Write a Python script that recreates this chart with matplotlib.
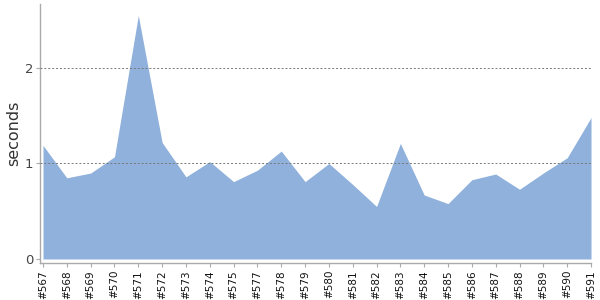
import matplotlib
matplotlib.use("Agg")
import matplotlib.pyplot as plt
import numpy as np

builds = ["#567", "#568", "#569", "#570", "#571", "#572", "#573", "#574", "#575",
          "#577", "#578", "#579", "#580", "#581", "#582", "#583", "#584", "#585",
          "#586", "#587", "#588", "#589", "#590", "#591"]
seconds = [1.19, 0.85, 0.90, 1.07, 2.55, 1.22, 0.86, 1.02, 0.81,
           0.93, 1.13, 0.81, 1.00, 0.78, 0.55, 1.21, 0.67, 0.58,
           0.83, 0.89, 0.73, 0.90, 1.06, 1.48]
yticks = [0, 1, 2]

fig = plt.figure(figsize=(6, 3), dpi=100)
ax = fig.add_axes([40/600, 1-263/300, 551/600, 259/300])
x = np.arange(len(builds))
ax.fill_between(x, 0, seconds, color="#8FB1DB", linewidth=0)
ax.set_xlim(-0.126, len(builds) - 1)
ax.set_ylim(-0.042, 2.67)
ax.set_xticks(x)
ax.set_xticklabels(builds, rotation=90, fontsize=7.5, color="#111111")
ax.set_yticks(yticks)
ax.set_yticklabels([str(t) for t in yticks], fontsize=9.5, color="#444444")
for t in yticks[1:]:
    ax.axhline(t, color="#777777", linestyle=(0, (2, 2)), linewidth=0.7, zorder=3)
for s in ["top", "right"]:
    ax.spines[s].set_visible(False)
for s in ["left", "bottom"]:
    ax.spines[s].set_color("#aaaaaa")
    ax.spines[s].set_linewidth(1.0)
ax.tick_params(axis="both", length=3, color="#aaaaaa", pad=2)
ax.set_ylabel("seconds", fontsize=11.5, color="#333333")
ax.yaxis.set_label_coords(-0.035, 0.5)
fig.savefig("out.png", dpi=100)
